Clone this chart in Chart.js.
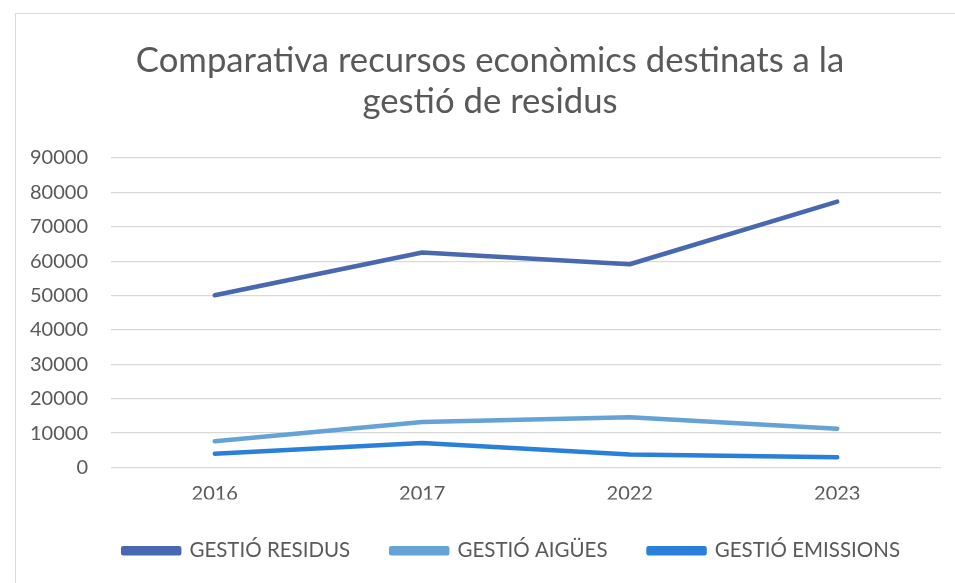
<!DOCTYPE html>
<html>
<head>
<meta charset="utf-8">
<script src="https://cdn.jsdelivr.net/npm/chart.js@4"></script>
<style>
  html, body { margin: 0; padding: 0; background: #fff; overflow: hidden; }
  #frame { position: absolute; left: 15px; top: 13px; width: 980px; height: 620px; border: 1px solid #d9d9d9; }
  #wrap { position: absolute; left: 0; top: 0; width: 955px; height: 583px; }
</style>
</head>
<body>
<div id="frame"></div>
<div id="wrap"><canvas id="myChart" width="955" height="583"></canvas></div>
<script>
const years = ['2016', '2017', '2022', '2023']
const residus = [50100, 62500, 59100, 77300]   // GESTIÓ RESIDUS
const aigues = [7600, 13200, 14600, 11300]     // GESTIÓ AIGÜES
const emissions = [4000, 7100, 3800, 3000]     // GESTIÓ EMISSIONS
const titleLines = ['Comparativa recursos econòmics destinats a la', 'gestió de residus']

const gray = '#595959'
const fontFamily = 'Lato, "Open Sans", sans-serif'

function lineSet(label, data, color){
    return {
        label,
        data,
        borderColor: color,
        backgroundColor: color,
        borderWidth: 4.5,
        borderCapStyle: 'round',
        borderJoinStyle: 'round',
        pointRadius: 0,
        tension: 0,
        fill: false
    }
}

// titol centrat sobre el marc del grafic (no sobre el canvas)
const frameTitle = {
    id: 'frameTitle',
    afterDraw(chart){
        const c = chart.ctx
        c.save()
        c.fillStyle = gray
        c.font = `34.7px ${fontFamily}`
        c.textAlign = 'center'
        c.textBaseline = 'middle'
        const cx = 490
        titleLines.forEach((line, i) => c.fillText(line, cx, 61 + i * 41))
        c.restore()
    }
}

const ctx = document.getElementById('myChart')

new Chart(ctx, {
    type: 'line',
    data: {
        labels: years,
        datasets: [
            lineSet('GESTIÓ RESIDUS', residus, '#4868b0'),
            lineSet('GESTIÓ AIGÜES', aigues, '#65a2d6'),
            lineSet('GESTIÓ EMISSIONS', emissions, '#2a7fd9')
        ]
    },
    options: {
        responsive: false,
        animation: false,
        layout: { padding: { left: 0, right: 14, top: 158, bottom: 12 } },
        scales: {
            x: {
                offset: true,
                grid: { display: false, drawTicks: false },
                border: { display: false },
                ticks: { color: gray, padding: 14, font: { family: fontFamily, size: 20 } },
                afterFit: s => { s.height = 32 }
            },
            y: {
                min: 0,
                max: 90000,
                ticks: {
                    stepSize: 10000,
                    color: gray,
                    padding: 23,
                    font: { family: fontFamily, size: 20 },
                    callback: v => String(v)
                },
                grid: { color: '#d9d9d9', lineWidth: 1.3, drawTicks: false },
                border: { display: false },
                afterFit: s => { s.width = 111 }
            }
        },
        plugins: {
            title: { display: false },
            legend: {
                position: 'bottom',
                align: 'end',
                labels: {
                    color: gray,
                    boxWidth: 56,
                    boxHeight: 5,
                    padding: 41,
                    font: { family: fontFamily, size: 20.5 }
                }
            },
            tooltip: { enabled: false }
        }
    },
    plugins: [frameTitle]
})
</script>
</body>
</html>
